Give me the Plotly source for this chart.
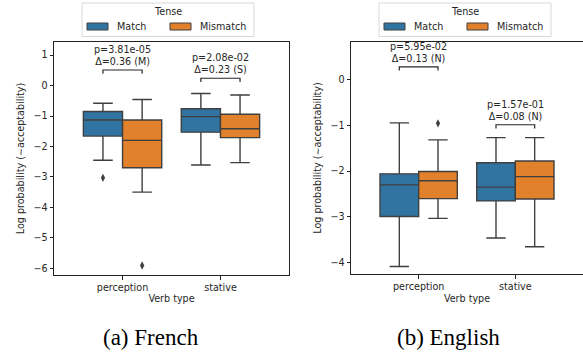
import plotly.graph_objects as go

W, H = 583, 352

categories = ["perception", "stative"]
hues = ["Match", "Mismatch"]
legend_title = "Tense"
x_title = "Verb type"
y_title = "Log probability (\u223cacceptability)"
captions = ["(a) French", "(b) English"]
hue_colors = ["#3274a1", "#e1812c"]

# French panel: per hue, per category
fr_upper = {"Match": [-0.58, -0.26], "Mismatch": [-0.46, -0.31]}
fr_q3 = {"Match": [-0.85, -0.76], "Mismatch": [-1.13, -0.94]}
fr_med = {"Match": [-1.13, -1.02], "Mismatch": [-1.80, -1.42]}
fr_q1 = {"Match": [-1.66, -1.53], "Mismatch": [-2.70, -1.71]}
fr_lower = {"Match": [-2.45, -2.61], "Mismatch": [-3.50, -2.53]}
fr_outliers = {"Match": [[-3.03], []], "Mismatch": [[-5.91], []]}
fr_pvals = ["p=3.81e-05", "p=2.08e-02"]
fr_deltas = ["\u0394=0.36 (M)", "\u0394=0.23 (S)"]
fr_bracket_y = [0.51, 0.24]

# English panel
en_upper = {"Match": [-0.95, -1.27], "Mismatch": [-1.32, -1.27]}
en_q3 = {"Match": [-2.06, -1.82], "Mismatch": [-2.01, -1.78]}
en_med = {"Match": [-2.30, -2.35], "Mismatch": [-2.21, -2.12]}
en_q1 = {"Match": [-2.99, -2.65], "Mismatch": [-2.60, -2.61]}
en_lower = {"Match": [-4.08, -3.46], "Mismatch": [-3.03, -3.65]}
en_outliers = {"Match": [[], []], "Mismatch": [[-0.96], []]}
en_pvals = ["p=5.95e-02", "p=1.57e-01"]
en_deltas = ["\u0394=0.13 (N)", "\u0394=0.08 (N)"]
en_bracket_y = [0.27, -0.99]

FONT = "DejaVu Sans"
FS = 9.6
TXT = "#262626"
EDGE = "#3f3f3f"

def px(x):
    return x / W

def py(y):
    return 1 - y / H

fig = go.Figure()

panels = [
    dict(xa="x", ya="y", upper=fr_upper, q3=fr_q3, med=fr_med, q1=fr_q1, lower=fr_lower,
         out=fr_outliers, pv=fr_pvals, dl=fr_deltas, by=fr_bracket_y, tick=0.12),
    dict(xa="x2", ya="y2", upper=en_upper, q3=en_q3, med=en_med, q1=en_q1, lower=en_lower,
         out=en_outliers, pv=en_pvals, dl=en_deltas, by=en_bracket_y, tick=0.08),
]

box_w = 0.4
annotations = []
for p in panels:
    for h, hue in enumerate(hues):
        xs = [i + (h - 0.5) * box_w for i in range(len(categories))]
        fig.add_trace(go.Box(
            x=xs, q1=p["q1"][hue], median=p["med"][hue], q3=p["q3"][hue],
            lowerfence=p["lower"][hue], upperfence=p["upper"][hue],
            width=box_w, whiskerwidth=0.5,
            fillcolor=hue_colors[h], line=dict(color=EDGE, width=1.4),
            xaxis=p["xa"], yaxis=p["ya"], showlegend=False, name=hue,
            boxpoints=False,
        ))
        ox, oy = [], []
        for i, vals in enumerate(p["out"][hue]):
            for v in vals:
                ox.append(xs[i])
                oy.append(v)
        if ox:
            fig.add_trace(go.Scatter(
                x=ox, y=oy, mode="markers",
                marker=dict(symbol="diamond-tall", size=6, color=EDGE),
                xaxis=p["xa"], yaxis=p["ya"], showlegend=False, hoverinfo="skip",
            ))
    # brackets and stats text
    for i in range(len(categories)):
        x0 = i - 0.5 * box_w
        x1 = i + 0.5 * box_w
        yb = p["by"][i]
        fig.add_trace(go.Scatter(
            x=[x0, x0, x1, x1], y=[yb - p["tick"], yb, yb, yb - p["tick"]],
            mode="lines", line=dict(color=TXT, width=1.2),
            xaxis=p["xa"], yaxis=p["ya"], showlegend=False, hoverinfo="skip",
        ))
        annotations.append(dict(
            x=i, y=yb, xref=p["xa"], yref=p["ya"],
            text=p["pv"][i] + "<br>" + p["dl"][i],
            showarrow=False, xanchor="center", yanchor="bottom", yshift=1,
            font=dict(family=FONT, size=FS, color=TXT),
        ))

axis_common = dict(
    showgrid=False, zeroline=False, showline=True, mirror=True,
    linecolor="#222222", linewidth=1, ticks="outside", ticklen=3.5,
    tickcolor="#222222", tickfont=dict(family=FONT, size=FS, color=TXT),
)

fig.update_layout(
    width=W, height=H, margin=dict(l=0, r=0, t=0, b=0),
    paper_bgcolor="white", plot_bgcolor="white",
    xaxis=dict(domain=[px(54), px(289)], range=[-0.7, 1.7], tickvals=[0, 1],
               ticktext=categories, anchor="y",
               title=dict(text=x_title, standoff=3, font=dict(family=FONT, size=FS, color=TXT)),
               **axis_common),
    yaxis=dict(domain=[py(275), py(42)], range=[-6.22, 1.43], dtick=1, anchor="x",
               title=dict(text=y_title, standoff=7, font=dict(family=FONT, size=FS, color=TXT)),
               **axis_common),
    xaxis2=dict(domain=[px(351), 1.0], range=[-0.7, 1.7], tickvals=[0, 1],
                ticktext=categories, anchor="y2",
                title=dict(text=x_title, standoff=3, font=dict(family=FONT, size=FS, color=TXT)),
                **axis_common),
    yaxis2=dict(domain=[py(274.3), py(41.7)], range=[-4.25, 0.82], dtick=1, anchor="x2",
                title=dict(text=y_title, standoff=7, font=dict(family=FONT, size=FS, color=TXT)),
                **axis_common),
    showlegend=False,
)

# manual legends (matplotlib-style) and captions
shapes = []
for lx in (82, 379):
    shapes.append(dict(type="rect", xref="paper", yref="paper",
                       x0=px(lx), x1=px(lx + 172), y0=py(36.5), y1=py(3),
                       line=dict(color="#d9d9d9", width=1), fillcolor="rgba(255,255,255,0.8)"))
    annotations.append(dict(x=px(lx + 86), y=py(12), xref="paper", yref="paper",
                            text=legend_title, showarrow=False, xanchor="center", yanchor="middle",
                            font=dict(family=FONT, size=FS, color=TXT)))
    patch_x = [lx + 5, lx + 88]
    text_x = [lx + 33, lx + 116]
    for h, hue in enumerate(hues):
        shapes.append(dict(type="rect", xref="paper", yref="paper",
                           x0=px(patch_x[h]), x1=px(patch_x[h] + 21), y0=py(30), y1=py(23),
                           line=dict(color=EDGE, width=1), fillcolor=hue_colors[h]))
        annotations.append(dict(x=px(text_x[h]), y=py(27), xref="paper", yref="paper",
                                text=hue, showarrow=False, xanchor="left", yanchor="middle",
                                font=dict(family=FONT, size=FS, color=TXT)))

for cx, cap in zip((151, 448), captions):
    annotations.append(dict(x=px(cx), y=py(337), xref="paper", yref="paper",
                            text=cap, showarrow=False, xanchor="center", yanchor="middle",
                            font=dict(family="Liberation Serif", size=23, color="#000000")))

fig.update_layout(shapes=shapes, annotations=annotations)
fig.write_html("out.html", config={"displayModeBar": False},
               post_script="document.body.style.margin='0';")
